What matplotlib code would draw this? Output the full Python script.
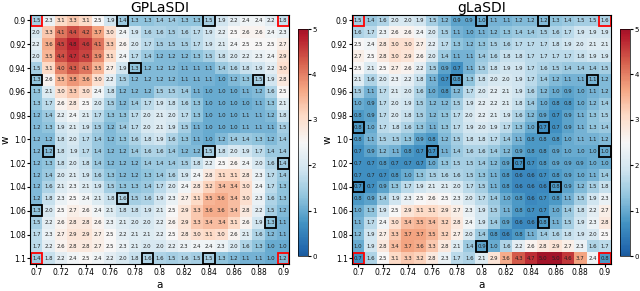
import matplotlib
matplotlib.use("Agg")
import matplotlib.pyplot as plt
import numpy as np
from matplotlib.patches import Rectangle
from matplotlib.colors import LinearSegmentedColormap

a_vals = np.round(np.arange(0.70, 0.9001, 0.01), 2)
w_vals = np.round(np.arange(0.90, 1.1001, 0.01), 2)

# max relative error (%) per (w, a), rows = w, cols = a
gp_err = [
    [1.5, 2.3, 3.1, 3.3, 3.1, 2.5, 1.9, 1.4, 1.3, 1.3, 1.4, 1.4, 1.3, 1.3, 1.5, 1.9, 2.2, 2.4, 2.4, 2.2, 1.8],
    [2.0, 3.3, 4.1, 4.4, 4.2, 3.7, 3.0, 2.4, 1.9, 1.6, 1.6, 1.5, 1.6, 1.7, 1.9, 2.2, 2.5, 2.6, 2.6, 2.4, 2.3],
    [2.2, 3.6, 4.5, 4.8, 4.6, 4.1, 3.3, 2.6, 2.0, 1.7, 1.5, 1.5, 1.5, 1.7, 1.9, 2.1, 2.4, 2.5, 2.5, 2.5, 2.7],
    [2.0, 3.5, 4.4, 4.7, 4.5, 3.9, 3.1, 2.4, 1.7, 1.4, 1.2, 1.2, 1.2, 1.3, 1.5, 1.8, 2.0, 2.2, 2.3, 2.4, 2.9],
    [1.5, 3.1, 4.0, 4.3, 4.1, 3.5, 2.7, 1.9, 1.3, 1.2, 1.2, 1.2, 1.1, 1.1, 1.1, 1.4, 1.6, 1.8, 1.9, 2.2, 3.0],
    [1.3, 2.6, 3.5, 3.8, 3.6, 3.0, 2.2, 1.5, 1.2, 1.2, 1.2, 1.2, 1.1, 1.1, 1.1, 1.0, 1.2, 1.3, 1.5, 1.9, 2.8],
    [1.3, 2.1, 3.0, 3.3, 3.0, 2.4, 1.8, 1.2, 1.2, 1.2, 1.5, 1.5, 1.4, 1.1, 1.0, 1.0, 1.0, 1.1, 1.2, 1.6, 2.5],
    [1.3, 1.7, 2.6, 2.8, 2.5, 2.0, 1.5, 1.2, 1.4, 1.7, 1.9, 1.8, 1.6, 1.3, 1.0, 1.0, 1.0, 1.0, 1.1, 1.3, 2.1],
    [1.2, 1.4, 2.2, 2.4, 2.1, 1.7, 1.3, 1.3, 1.7, 2.0, 2.1, 2.0, 1.7, 1.3, 1.0, 1.0, 1.0, 1.1, 1.1, 1.2, 1.8],
    [1.2, 1.3, 1.9, 2.1, 1.9, 1.5, 1.2, 1.4, 1.7, 2.0, 2.1, 1.9, 1.5, 1.1, 1.0, 1.0, 1.0, 1.1, 1.1, 1.1, 1.5],
    [1.2, 1.2, 1.8, 2.0, 1.7, 1.4, 1.2, 1.3, 1.6, 1.8, 1.9, 1.6, 1.3, 1.1, 1.0, 1.2, 1.4, 1.4, 1.3, 1.2, 1.4],
    [1.2, 1.2, 1.8, 1.9, 1.7, 1.4, 1.2, 1.2, 1.4, 1.6, 1.6, 1.4, 1.2, 1.2, 1.5, 1.8, 2.0, 1.9, 1.7, 1.4, 1.4],
    [1.2, 1.3, 1.8, 2.0, 1.8, 1.4, 1.2, 1.2, 1.2, 1.4, 1.4, 1.4, 1.5, 1.8, 2.2, 2.5, 2.6, 2.4, 2.0, 1.6, 1.4],
    [1.2, 1.4, 2.0, 2.1, 1.9, 1.6, 1.3, 1.2, 1.2, 1.3, 1.4, 1.6, 1.9, 2.4, 2.8, 3.1, 3.1, 2.8, 2.3, 1.7, 1.4],
    [1.2, 1.6, 2.1, 2.3, 2.1, 1.9, 1.5, 1.3, 1.3, 1.4, 1.7, 2.0, 2.4, 2.8, 3.2, 3.4, 3.4, 3.0, 2.4, 1.7, 1.3],
    [1.2, 1.8, 2.3, 2.5, 2.4, 2.1, 1.8, 1.6, 1.5, 1.6, 1.9, 2.3, 2.7, 3.1, 3.5, 3.6, 3.4, 3.0, 2.3, 1.6, 1.3],
    [1.3, 2.0, 2.5, 2.7, 2.6, 2.4, 2.1, 1.8, 1.8, 1.9, 2.1, 2.5, 2.9, 3.3, 3.6, 3.6, 3.4, 2.8, 2.2, 1.5, 1.2],
    [1.5, 2.2, 2.6, 2.8, 2.8, 2.6, 2.3, 2.1, 2.0, 2.0, 2.2, 2.6, 2.9, 3.3, 3.4, 3.4, 3.1, 2.6, 1.9, 1.3, 1.1],
    [1.7, 2.3, 2.7, 2.9, 2.9, 2.7, 2.5, 2.2, 2.1, 2.1, 2.2, 2.5, 2.8, 3.0, 3.1, 3.0, 2.6, 2.1, 1.6, 1.2, 1.1],
    [1.7, 2.2, 2.6, 2.8, 2.8, 2.7, 2.5, 2.3, 2.1, 2.0, 2.0, 2.2, 2.3, 2.4, 2.4, 2.3, 2.0, 1.6, 1.3, 1.0, 1.0],
    [1.4, 1.8, 2.2, 2.4, 2.5, 2.4, 2.2, 2.0, 1.8, 1.6, 1.6, 1.5, 1.6, 1.5, 1.5, 1.3, 1.2, 1.1, 1.1, 1.0, 1.2],
]

g_err = [
    [1.5, 1.4, 1.6, 2.0, 2.0, 1.9, 1.5, 1.2, 0.9, 0.9, 1.0, 1.1, 1.1, 1.2, 1.2, 1.2, 1.3, 1.4, 1.5, 1.5, 1.6],
    [1.6, 1.7, 2.3, 2.6, 2.6, 2.4, 2.0, 1.5, 1.1, 1.0, 1.1, 1.2, 1.3, 1.4, 1.4, 1.5, 1.6, 1.7, 1.9, 1.9, 1.9],
    [2.5, 2.4, 2.8, 3.0, 3.0, 2.7, 2.2, 1.7, 1.3, 1.2, 1.3, 1.5, 1.6, 1.7, 1.7, 1.7, 1.8, 1.9, 2.0, 2.1, 2.1],
    [2.7, 2.5, 2.8, 3.0, 2.9, 2.6, 2.0, 1.4, 1.1, 1.1, 1.4, 1.6, 1.8, 1.8, 1.7, 1.7, 1.7, 1.7, 1.8, 1.9, 1.9],
    [2.5, 2.1, 2.5, 2.7, 2.6, 2.2, 1.5, 0.9, 0.7, 1.1, 1.5, 1.8, 1.9, 1.9, 1.7, 1.6, 1.5, 1.4, 1.4, 1.4, 1.5],
    [2.1, 1.6, 2.0, 2.3, 2.2, 1.8, 1.1, 0.7, 0.8, 1.3, 1.8, 2.0, 2.0, 1.9, 1.7, 1.4, 1.2, 1.1, 1.1, 1.1, 1.2],
    [1.5, 1.1, 1.7, 2.1, 2.0, 1.6, 1.0, 0.8, 1.2, 1.7, 2.0, 2.2, 2.1, 1.9, 1.6, 1.2, 1.0, 0.9, 1.0, 1.1, 1.2],
    [1.0, 0.9, 1.7, 2.0, 1.9, 1.5, 1.2, 1.2, 1.5, 1.9, 2.2, 2.2, 2.1, 1.8, 1.4, 1.0, 0.8, 0.8, 1.0, 1.2, 1.4],
    [0.8, 0.9, 1.7, 2.0, 1.8, 1.5, 1.2, 1.3, 1.7, 2.0, 2.2, 2.1, 1.9, 1.6, 1.2, 0.9, 0.7, 0.9, 1.1, 1.3, 1.5],
    [0.8, 1.0, 1.7, 1.8, 1.6, 1.3, 1.1, 1.3, 1.7, 1.9, 2.0, 1.9, 1.7, 1.3, 1.0, 0.7, 0.7, 0.9, 1.1, 1.3, 1.4],
    [0.8, 1.1, 1.5, 1.5, 1.3, 0.9, 0.8, 1.2, 1.5, 1.8, 1.8, 1.7, 1.4, 1.1, 0.8, 0.8, 0.8, 1.0, 1.1, 1.1, 1.2],
    [0.7, 0.9, 1.2, 1.1, 0.8, 0.7, 0.7, 1.1, 1.4, 1.6, 1.6, 1.4, 1.2, 0.9, 0.8, 0.8, 0.9, 1.0, 1.0, 1.0, 1.0],
    [0.7, 0.7, 0.8, 0.7, 0.7, 0.7, 1.0, 1.3, 1.5, 1.5, 1.4, 1.2, 0.9, 0.7, 0.7, 0.8, 0.9, 0.9, 0.9, 1.0, 1.0],
    [0.7, 0.7, 0.7, 0.8, 1.0, 1.3, 1.5, 1.6, 1.6, 1.5, 1.3, 1.1, 0.8, 0.6, 0.6, 0.7, 0.8, 0.9, 1.0, 1.1, 1.4],
    [0.7, 0.7, 0.9, 1.3, 1.7, 1.9, 2.1, 2.1, 2.0, 1.7, 1.5, 1.1, 0.8, 0.6, 0.6, 0.6, 0.8, 0.9, 1.2, 1.5, 1.8],
    [0.8, 0.9, 1.4, 1.9, 2.3, 2.5, 2.6, 2.5, 2.3, 2.0, 1.7, 1.4, 1.0, 0.8, 0.6, 0.7, 0.8, 1.1, 1.5, 1.9, 2.3],
    [1.0, 1.3, 1.9, 2.5, 2.9, 3.1, 3.1, 2.9, 2.7, 2.3, 1.9, 1.5, 1.1, 0.8, 0.7, 0.7, 1.0, 1.4, 1.8, 2.2, 2.7],
    [1.1, 1.7, 2.4, 3.0, 3.4, 3.5, 3.4, 3.2, 2.8, 2.4, 1.9, 1.4, 0.9, 0.6, 0.6, 0.8, 1.1, 1.5, 1.9, 2.3, 2.8],
    [1.2, 1.9, 2.7, 3.3, 3.7, 3.7, 3.5, 3.2, 2.7, 2.0, 1.4, 0.8, 0.6, 0.8, 1.1, 1.4, 1.6, 1.8, 1.9, 2.0, 2.5],
    [1.0, 1.9, 2.8, 3.4, 3.7, 3.6, 3.3, 2.8, 2.1, 1.4, 0.9, 1.0, 1.6, 2.2, 2.6, 2.8, 2.9, 2.7, 2.3, 1.6, 1.7],
    [0.7, 1.6, 2.5, 3.1, 3.3, 3.2, 2.8, 2.3, 1.7, 1.6, 2.1, 2.9, 3.6, 4.3, 4.7, 5.0, 5.0, 4.6, 3.7, 2.4, 0.8],
]

# training points: (row, col)
corner_pts = [(0, 0), (0, 20), (20, 0), (20, 20)]
gp_pts = [(0, 7), (0, 14), (4, 8), (5, 0), (5, 18), (11, 1), (11, 14), (12, 20),
          (15, 7), (16, 0), (17, 19), (20, 9), (20, 14)]
g_pts = [(0, 10), (0, 15), (5, 8), (5, 19), (9, 0), (9, 15), (11, 6), (11, 20),
         (12, 13), (14, 0), (14, 16), (17, 15), (19, 10)]

titles = ["GPLaSDI", "gLaSDI"]
x_labels = ["0.7", "0.72", "0.74", "0.76", "0.78", "0.8", "0.82", "0.84", "0.86", "0.88", "0.9"]
y_labels = ["0.9", "0.92", "0.94", "0.96", "0.98", "1.0", "1.02", "1.04", "1.06", "1.08", "1.1"]

base = plt.get_cmap("RdBu_r")
cmap = LinearSegmentedColormap.from_list("rdbu_mid", base(np.linspace(0.08, 0.92, 256)))

fig = plt.figure(figsize=(6.4, 2.91), dpi=100)
ax_pos = [[0.047, 0.092, 0.405, 0.858], [0.550, 0.092, 0.405, 0.858]]
cb_pos = [[0.465, 0.12, 0.016, 0.78], [0.969, 0.12, 0.016, 0.78]]

for k, (data, pts) in enumerate([(gp_err, gp_pts), (g_err, g_pts)]):
    z = np.array(data)
    ax = fig.add_axes(ax_pos[k])
    mesh = ax.pcolormesh(np.arange(22), np.arange(22), z, cmap=cmap, vmin=0, vmax=5)
    ax.set_xlim(0, 21)
    ax.set_ylim(21, 0)
    for i in range(21):
        for j in range(21):
            ax.text(j + 0.5, i + 0.5, f"{z[i, j]:.1f}", ha="center", va="center",
                    fontsize=3.9, color="#222222")
    for (i, j) in pts:
        ax.add_patch(Rectangle((j + 0.05, i + 0.05), 0.9, 0.9, fill=False,
                               edgecolor="black", lw=1.3))
    for (i, j) in corner_pts:
        ax.add_patch(Rectangle((j + 0.05, i + 0.05), 0.9, 0.9, fill=False,
                               edgecolor="red", lw=1.3))
    ax.set_xticks(np.arange(0, 21, 2) + 0.5)
    ax.set_xticklabels(x_labels, fontsize=5.5)
    ax.set_yticks(np.arange(0, 21, 2) + 0.5)
    ax.set_yticklabels(y_labels, fontsize=5.5)
    ax.tick_params(length=2, pad=1)
    ax.set_title(titles[k], fontsize=10, pad=1)
    ax.set_xlabel("a", fontsize=7.5, va="bottom")
    ax.xaxis.set_label_coords(0.5, -0.103)
    ax.set_ylabel("w", fontsize=7.5)
    ax.yaxis.set_label_coords(-0.075, 0.5)
    cax = fig.add_axes(cb_pos[k])
    cb = fig.colorbar(mesh, cax=cax, ticks=[0, 1, 2, 3, 4, 5])
    cb.ax.tick_params(labelsize=5, length=2, pad=1)
    cb.outline.set_linewidth(0.5)

fig.savefig("out.png", dpi=100)
